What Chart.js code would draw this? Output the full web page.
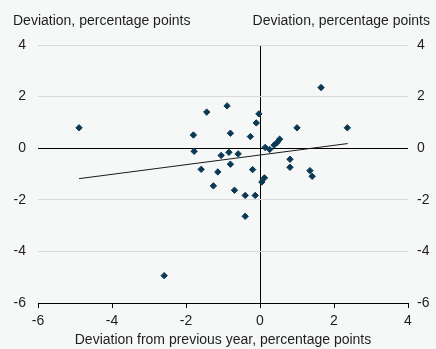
<!DOCTYPE html>
<html>
<head>
<meta charset="utf-8">
<script src="https://cdn.jsdelivr.net/npm/chart.js@4/dist/chart.umd.min.js"></script>
<style>
  html, body { margin: 0; padding: 0; background: #f6f8f8; }
  #wrap { width: 436px; height: 349px; position: relative; }
</style>
</head>
<body>
<div id="wrap"><canvas id="myChart"></canvas></div>
<script>
// deviation from previous year (x) vs deviation (y), percentage points
const xValues = [-4.89, -2.59, -1.80, -1.78, -1.59, -1.44, -1.26, -1.14, -1.05, -0.89,
  -0.84, -0.80, -0.80, -0.69, -0.59, -0.40, -0.40, -0.26, -0.20, -0.13,
  -0.10, -0.03, 0.05, 0.12, 0.14, 0.26, 0.38, 0.46, 0.53, 0.81,
  0.81, 1.00, 1.35, 1.41, 1.65, 2.36];
const yValues = [0.79, -4.94, 0.51, -0.12, -0.82, 1.40, -1.46, -0.92, -0.28, 1.64,
  -0.16, 0.58, -0.62, -1.63, -0.22, -1.83, -2.64, 0.45, -0.83, -1.83,
  0.98, 1.33, -1.31, -1.15, 0.03, -0.05, 0.12, 0.22, 0.35, -0.43,
  -0.74, 0.79, -0.87, -1.09, 2.35, 0.79];
// fitted trend line end points
const trendX = [-4.89, 2.37];
const trendY = [-1.18, 0.18];

const axisTitle = "Deviation, percentage points";
const xTitle = "Deviation from previous year, percentage points";

const font = { family: "'Liberation Sans', Arial, sans-serif", size: 14 };
const textColor = "#1e1e1e";

const headerTitles = {
  id: "headerTitles",
  afterDraw(chart) {
    const ctx = chart.ctx;
    ctx.save();
    ctx.font = "14px 'Liberation Sans', Arial, sans-serif";
    ctx.fillStyle = textColor;
    ctx.textBaseline = "alphabetic";
    ctx.textAlign = "left";
    ctx.fillText(axisTitle, 13, 25);
    ctx.textAlign = "right";
    ctx.fillText(axisTitle, 430, 25);
    ctx.restore();
  },
};

const scatterData = xValues.map((x, i) => ({ x: x, y: yValues[i] }));
const trendData = trendX.map((x, i) => ({ x: x, y: trendY[i] }));

const config = {
  type: "scatter",
  data: {
    datasets: [
      {
        type: "line",
        data: trendData,
        borderColor: "#1a1a1a",
        borderWidth: 1,
        pointRadius: 0,
        fill: false,
        order: 2,
      },
      {
        data: scatterData,
        pointStyle: "rectRot",
        pointRadius: 3.2,
        pointBorderWidth: 1,
        backgroundColor: "#0b3954",
        borderColor: "#0b3954",
        order: 1,
      },
    ],
  },
  options: {
    responsive: true,
    maintainAspectRatio: false,
    animation: false,
    layout: { padding: { top: 45, left: 0, right: 0, bottom: 0 } },
    plugins: { legend: { display: false }, tooltip: { enabled: false } },
    scales: {
      x: {
        type: "linear",
        min: -6,
        max: 4,
        ticks: { stepSize: 2, color: textColor, font: font, padding: 5 },
        grid: {
          color: (c) => (c.tick && c.tick.value === 0 ? "#000" : "rgba(0,0,0,0)"),
          tickColor: "#000",
          tickLength: 5,
          lineWidth: 1,
        },
        border: { display: true, color: "#000", width: 1 },
        title: { display: true, text: xTitle, color: textColor, font: font, padding: 0 },
        afterFit: (s) => { s.height = 46; },
      },
      y: {
        position: "left",
        min: -6,
        max: 4,
        ticks: { stepSize: 2, color: textColor, font: font, padding: 12 },
        grid: {
          color: (c) => {
            if (!c.tick) return "#d9d9d9";
            if (c.tick.value === 0) return "#000";
            if (c.tick.value === -6) return "rgba(0,0,0,0)";
            return "#d9d9d9";
          },
          drawTicks: false,
          lineWidth: 1,
        },
        border: { display: false },
        afterFit: (s) => { s.width = 38; },
      },
      y2: {
        position: "right",
        min: -6,
        max: 4,
        ticks: { stepSize: 2, color: textColor, font: font, padding: 9 },
        grid: { display: false, drawTicks: false },
        border: { display: false },
        afterFit: (s) => { s.width = 28; },
      },
    },
  },
  plugins: [headerTitles],
};

var myChart = new Chart(document.getElementById("myChart"), config);
</script>
</body>
</html>
